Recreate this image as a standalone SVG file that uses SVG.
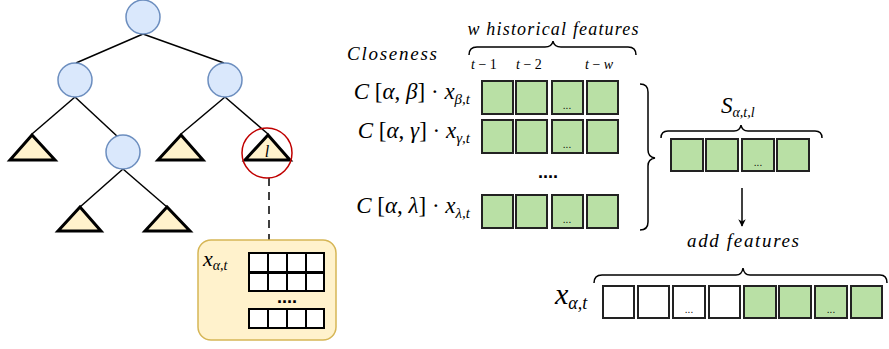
<svg xmlns="http://www.w3.org/2000/svg" width="889" height="349" viewBox="0 0 889 349">
<defs>
<style>
.edge{stroke:#000;stroke-width:1.5;fill:none}
.node{fill:#dae8fc;stroke:#6c8ebf;stroke-width:1.5}
.leaf{fill:#fff2cc;stroke:#000;stroke-width:3;stroke-linejoin:miter}
.g{fill:#b9e0a5;stroke:#222;stroke-width:2}
.w{fill:#fff;stroke:#222;stroke-width:2}
.cell{fill:#fff;stroke:#000;stroke-width:2}
.brace{fill:none;stroke:#000;stroke-width:1.5}
.dots{font-family:"Liberation Sans",sans-serif;font-size:10px;font-style:normal;fill:#000;text-anchor:middle}
.bdots{font-family:"Liberation Sans",sans-serif;font-size:18px;font-style:normal;font-weight:bold;fill:#000;text-anchor:middle}
</style>
<marker id="arr" viewBox="0 0 10 10" refX="9" refY="5" markerWidth="5" markerHeight="5" orient="auto"><path d="M0,0 L10,5 L0,10 L3,5 z" fill="#000"/></marker>
</defs>

<g id="connectors">
<line class="edge" x1="143" y1="34" x2="76" y2="63"/>
<line class="edge" x1="143" y1="34" x2="224" y2="63"/>
<line class="edge" x1="75" y1="97" x2="32" y2="134"/>
<line class="edge" x1="75" y1="97" x2="118" y2="137"/>
<line class="edge" x1="225" y1="97" x2="181" y2="134"/>
<line class="edge" x1="225" y1="97" x2="268" y2="134"/>
<line class="edge" x1="123" y1="169" x2="80" y2="207"/>
<line class="edge" x1="123" y1="169" x2="167" y2="207"/>
<line x1="269" y1="178" x2="269" y2="240" stroke="#000" stroke-width="1.5" stroke-dasharray="8,6"/>
<line x1="742" y1="188" x2="742" y2="226" stroke="#000" stroke-width="1.5" marker-end="url(#arr)"/>
</g>

<g id="tree">
<circle id="root" class="node" cx="143" cy="17" r="17"/>
<circle id="n-left" class="node" cx="75" cy="80" r="17"/>
<circle id="n-right" class="node" cx="225" cy="80" r="17"/>
<circle id="n-mid" class="node" cx="123" cy="152" r="17"/>
<polygon id="leaf1" class="leaf" points="32,135 10,160 55,160"/>
<polygon id="leaf2" class="leaf" points="181,135 158,160 203,160"/>
<polygon id="leaf3" class="leaf" points="80,207 58,231 101,231"/>
<polygon id="leaf4" class="leaf" points="167,207 145,231 190,231"/>
<g id="leaf-l">
<polygon class="leaf" points="268,135 245,160 290,160"/>
<text font-family="Liberation Serif, serif" font-style="italic" x="267" y="157" font-size="16" text-anchor="middle">l</text>
<circle cx="267" cy="153" r="25" fill="none" stroke="#c00000" stroke-width="1.5"/>
</g>
</g>

<g font-family="Liberation Serif, serif" font-style="italic" fill="#000">
<g id="feature-box">
<rect x="198" y="240" width="138" height="100" rx="13" ry="13" fill="#fff2cc" stroke="#d6b656" stroke-width="1.5"/>
<text x="203" y="266" font-size="22">x<tspan font-size="14" dy="4">α,t</tspan></text>
<rect class="cell" x="249" y="253" width="19" height="19"/>
<rect class="cell" x="268" y="253" width="19" height="19"/>
<rect class="cell" x="287" y="253" width="19" height="19"/>
<rect class="cell" x="306" y="253" width="18" height="19"/>
<rect class="cell" x="249" y="273" width="19" height="18"/>
<rect class="cell" x="268" y="273" width="19" height="18"/>
<rect class="cell" x="287" y="273" width="19" height="18"/>
<rect class="cell" x="306" y="273" width="18" height="18"/>
<text class="bdots" x="287" y="303">....</text>
<rect class="cell" x="249" y="309" width="19" height="19"/>
<rect class="cell" x="268" y="309" width="19" height="19"/>
<rect class="cell" x="287" y="309" width="19" height="19"/>
<rect class="cell" x="306" y="309" width="18" height="19"/>
</g>

<g id="closeness">
<text x="347" y="60" font-size="19" textLength="90">Closeness</text>
<text x="553" y="35" font-size="18" text-anchor="middle" textLength="171">w historical features</text>
<path class="brace" d="M469,55 Q469,47 477,47 L545,47 Q552,47 553,41 Q554,47 561,47 L628,47 Q636,47 636,55"/>
<text x="471" y="69" font-size="14">t <tspan font-style="normal">− 1</tspan></text>
<text x="516" y="69" font-size="14">t <tspan font-style="normal">− 2</tspan></text>
<text x="585" y="69" font-size="14">t <tspan font-style="normal">−</tspan> w</text>

<g id="row-beta">
<text x="470" y="99" font-size="23" text-anchor="end">C <tspan font-style="normal">[</tspan>α<tspan font-style="normal">, </tspan>β<tspan font-style="normal">] · </tspan>x<tspan font-size="15" dy="5">β,t</tspan></text>
<rect class="g" x="482" y="81" width="31" height="33"/>
<rect class="g" x="516" y="81" width="31" height="33"/>
<rect class="g" x="552" y="81" width="31" height="33"/>
<rect class="g" x="587" y="81" width="31" height="33"/>
<text class="dots" x="567" y="109">...</text>
</g>
<g id="row-gamma">
<text x="470" y="138" font-size="23" text-anchor="end">C <tspan font-style="normal">[</tspan>α<tspan font-style="normal">, </tspan>γ<tspan font-style="normal">] · </tspan>x<tspan font-size="15" dy="5">γ,t</tspan></text>
<rect class="g" x="482" y="120" width="31" height="33"/>
<rect class="g" x="516" y="120" width="31" height="33"/>
<rect class="g" x="552" y="120" width="31" height="33"/>
<rect class="g" x="587" y="120" width="31" height="33"/>
<text class="dots" x="567" y="148">...</text>
</g>
<text class="bdots" x="548" y="178">....</text>
<g id="row-lambda">
<text x="470" y="213" font-size="23" text-anchor="end">C <tspan font-style="normal">[</tspan>α<tspan font-style="normal">, </tspan>λ<tspan font-style="normal">] · </tspan>x<tspan font-size="15" dy="5">λ,t</tspan></text>
<rect class="g" x="482" y="195" width="31" height="33"/>
<rect class="g" x="516" y="195" width="31" height="33"/>
<rect class="g" x="552" y="195" width="31" height="33"/>
<rect class="g" x="587" y="195" width="31" height="33"/>
<text class="dots" x="567" y="223">...</text>
</g>
<path class="brace" d="M640,84 Q648,84 648,92 L648,150 Q648,157 655,158 Q648,159 648,166 L648,222 Q648,230 640,230"/>
</g>

<g id="s-vector">
<text x="721" y="113" font-size="23">S<tspan font-size="14" dy="4">α,t,l</tspan></text>
<path class="brace" d="M661,138 Q661,131 668,131 L734,131 Q740,131 741,125 Q742,131 748,131 L815,131 Q822,131 822,138"/>
<rect class="g" x="671" y="139" width="32" height="32"/>
<rect class="g" x="706" y="139" width="32" height="32"/>
<rect class="g" x="742" y="139" width="32" height="32"/>
<rect class="g" x="777" y="139" width="32" height="32"/>
<text class="dots" x="758" y="166">...</text>
</g>

<text id="add-features" x="743" y="247" font-size="19" text-anchor="middle" textLength="112">add features</text>

<g id="x-vector">
<text x="555" y="304" font-size="30">x<tspan font-size="18" dy="5">α,t</tspan></text>
<path class="brace" d="M594,283 Q594,275 602,275 L736,275 Q742,275 743,268 Q744,275 750,275 L880,275 Q887,275 887,283"/>
<rect class="w" x="603" y="286" width="31" height="32"/>
<rect class="w" x="638" y="286" width="31" height="32"/>
<rect class="w" x="673" y="286" width="32" height="32"/>
<rect class="w" x="709" y="286" width="31" height="32"/>
<rect class="g" x="744" y="286" width="32" height="32"/>
<rect class="g" x="779" y="286" width="32" height="32"/>
<rect class="g" x="815" y="286" width="32" height="32"/>
<rect class="g" x="851" y="286" width="31" height="32"/>
<text class="dots" x="689" y="313">...</text>
<text class="dots" x="831" y="313">...</text>
</g>
</g>
</svg>
